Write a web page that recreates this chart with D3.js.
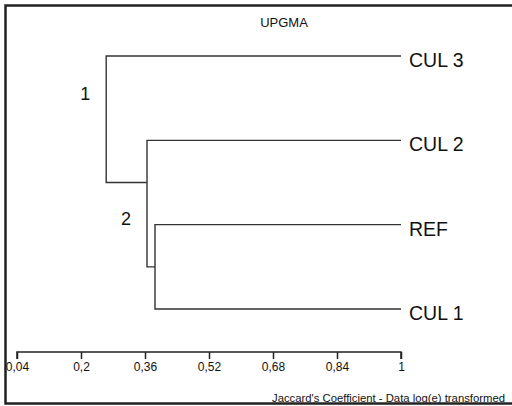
<!DOCTYPE html>
<html><head><meta charset="utf-8">
<script src="https://cdn.jsdelivr.net/npm/d3@7/dist/d3.min.js"></script>
<style>
html,body{margin:0;padding:0;background:#fff;}
text{font-family:"Liberation Sans",Arial,sans-serif;fill:#111;}
</style></head>
<body>
<svg id="c" width="512" height="406"></svg>
<script>
// ---- data ----
const leaves = ["CUL 3", "CUL 2", "REF", "CUL 1"];
// merges: [left child, right child, similarity level]; children are leaf names or merge ids
const mergeIds = ["m3", "m2", "m1"];
const mergeLeft = ["REF", "CUL 2", "CUL 3"];
const mergeRight = ["CUL 1", "m3", "m2"];
const mergeLevel = [0.385, 0.365, 0.263];
const clusterLabels = ["1", "2"];
const clusterNodes = ["m1", "m2"];
const clusterLabelRow = [0.44, 1.92]; // vertical position in leaf-row units
const tickValues = [0.04, 0.2, 0.36, 0.52, 0.68, 0.84, 1];
const title = "UPGMA";
const axisTitle = "Jaccard's Coefficient - Data log(e) transformed";

// ---- drawing ----
const svg = d3.select("#c");
const x = d3.scaleLinear().domain([0.04, 1]).range([17, 401]);
const y = d3.scaleLinear().domain([0, leaves.length - 1]).range([56, 309]);

const nodes = {};
leaves.forEach((l, i) => nodes[l] = {x: 1, yi: i, first: i, last: i});
mergeIds.forEach((id, i) => {
  const a = nodes[mergeLeft[i]], b = nodes[mergeRight[i]];
  nodes[id] = {x: mergeLevel[i], a, b, first: a.first, last: b.last,
               yi: (a.last + b.first) / 2};
});

const g = svg.append("g").attr("fill", "none").attr("stroke", "#333").attr("stroke-width", 1.4);
mergeIds.forEach(id => {
  const n = nodes[id];
  const path = d3.path();
  path.moveTo(x(n.a.x), y(n.a.yi));
  path.lineTo(x(n.x), y(n.a.yi));
  path.lineTo(x(n.x), y(n.b.yi));
  path.lineTo(x(n.b.x), y(n.b.yi));
  g.append("path").attr("d", path.toString());
});

// leaf labels
svg.selectAll(".leaf").data(leaves).enter().append("text")
  .attr("x", x(1) + 8).attr("y", (d, i) => y(i) + 11)
  .attr("font-size", 19.5).text(d => d);

// cluster labels
svg.selectAll(".cl").data(clusterLabels).enter().append("text")
  .attr("x", (d, i) => x(nodes[clusterNodes[i]].x) - 21)
  .attr("y", (d, i) => y(clusterLabelRow[i]) + 7)
  .attr("font-size", 18).attr("text-anchor", "middle").text(d => d);

// axis
const axis = d3.axisBottom(x).tickValues(tickValues).tickSize(7).tickSizeOuter(7)
  .tickFormat(d => String(d).replace(".", ","));
const ag = svg.append("g").attr("transform", "translate(0,352)").call(axis);
ag.select(".domain").attr("stroke", "#222").attr("stroke-width", 1.5)
  .attr("d", "M" + x(0.04) + ",7V0H" + x(1) + "V7");
ag.selectAll(".tick line").attr("stroke", "#222").attr("stroke-width", 1.5);
ag.selectAll(".tick text").attr("font-size", 12).attr("fill", "#111")
  .attr("font-family", "Liberation Sans, Arial, sans-serif").attr("dy", 0).attr("y", 18.5);

// titles
svg.append("text").attr("x", 284).attr("y", 27).attr("text-anchor", "middle")
  .attr("font-size", 13).text(title);
svg.append("text").attr("x", 505).attr("y", 402).attr("text-anchor", "end")
  .attr("font-size", 11.3).text(axisTitle);

// frame
svg.append("path").attr("fill", "none").attr("stroke", "#222").attr("stroke-width", 2.5)
  .attr("d", "M515,5.5H5.5V403.5H515");
</script>
</body></html>
